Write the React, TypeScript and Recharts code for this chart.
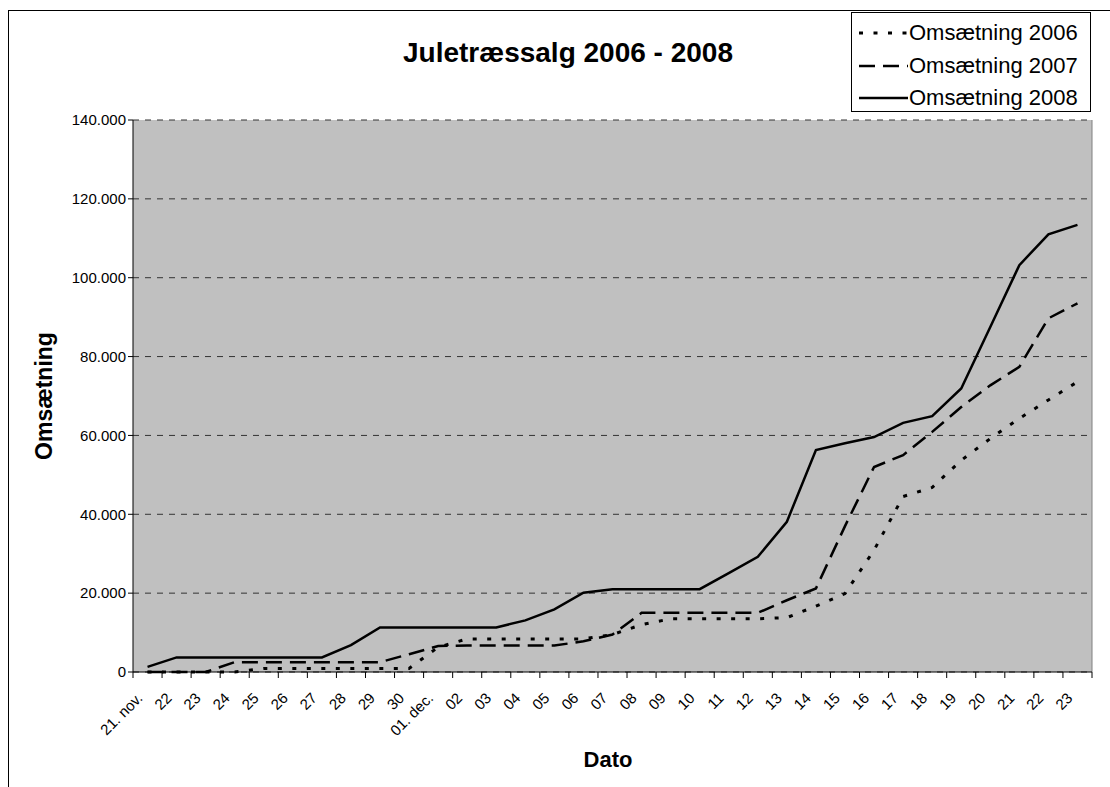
import React from "react";
import { LineChart, Line, XAxis, YAxis, CartesianGrid, ReferenceLine } from "recharts";

const dates = [
  "21. nov.", "22", "23", "24", "25", "26", "27", "28", "29", "30",
  "01. dec.", "02", "03", "04", "05", "06", "07", "08", "09", "10",
  "11", "12", "13", "14", "15", "16", "17", "18", "19", "20",
  "21", "22", "23",
];

const oms2006 = [
  0, 0, 0, 0, 900, 900, 900, 900, 900, 900,
  6300, 8400, 8400, 8400, 8400, 8400, 9500, 12000, 13500, 13500,
  13500, 13500, 13800, 16700, 19900, 30900, 44500, 46800, 53700, 59200,
  64300, 69000, 73600,
];

const oms2007 = [
  0, 0, 0, 2500, 2500, 2500, 2500, 2500, 2500, 4500,
  6600, 6700, 6700, 6700, 6700, 7800, 9500, 15000, 15000, 15000,
  15000, 15000, 18200, 21200, 37000, 52000, 55000, 60900, 67200, 72700,
  77400, 89700, 93500,
];

const oms2008 = [
  1300, 3700, 3700, 3700, 3700, 3700, 3700, 6800, 11300, 11300,
  11300, 11300, 11300, 13100, 15900, 20100, 21000, 21000, 21000, 21000,
  25100, 29200, 38100, 56300, 58000, 59600, 63200, 64900, 71900, 87500,
  103200, 111000, 113400,
];

const yTicks = [0, 20000, 40000, 60000, 80000, 100000, 120000, 140000];

const series = [
  { key: "o2006", name: "Omsætning 2006", dash: "4 10.5", width: 3 },
  { key: "o2007", name: "Omsætning 2007", dash: "16 8", width: 2.5 },
  { key: "o2008", name: "Omsætning 2008", dash: undefined, width: 2.5 },
];

const data = dates.map((d, i) => ({
  idx: i,
  o2006: oms2006[i],
  o2007: oms2007[i],
  o2008: oms2008[i],
}));

const W = 1110;
const H = 787;
const margin = { top: 120, right: 18, bottom: 55, left: 73 };
const Y_AXIS_W = 60;
const X_AXIS_H = 60;
const plotLeft = margin.left + Y_AXIS_W;
const plotRight = W - margin.right;
const bw = (plotRight - plotLeft) / dates.length;
const axisY = H - margin.bottom - X_AXIS_H;
const FONT = "'Liberation Sans', Arial, sans-serif";

const fmt = (v: number) => String(v).replace(/\B(?=(\d{3})+(?!\d))/g, ".");

// labels sit under the category, tick marks between categories (Excel style)
const XTick = (props: any) => {
  const { x, payload } = props;
  const i = payload.value;
  const tx = x - 4;
  const ty = axisY + 27;
  return (
    <g>
      <line x1={x - bw / 2} x2={x - bw / 2} y1={axisY} y2={axisY + 6} stroke="#000" />
      {i === dates.length - 1 && (
        <line x1={x + bw / 2} x2={x + bw / 2} y1={axisY} y2={axisY + 6} stroke="#000" />
      )}
      <text
        x={tx}
        y={ty}
        transform={`rotate(-45 ${tx} ${ty})`}
        textAnchor="end"
        fontSize={15}
        fontFamily={FONT}
        fill="#000"
      >
        {dates[i]}
      </text>
    </g>
  );
};

export default function App() {
  return (
    <div
      style={{
        position: "absolute",
        left: 0,
        top: 0,
        width: W,
        height: H,
        background: "#fff",
        overflow: "hidden",
        fontFamily: FONT,
      }}
    >
      <div
        style={{
          position: "absolute",
          left: 8,
          top: 10,
          width: 1300,
          height: 1000,
          borderLeft: "1px solid #000",
          borderTop: "1px solid #000",
        }}
      />
      <div style={{ position: "absolute", left: 0, top: 0 }}>
        <LineChart width={W} height={H} data={data} margin={margin}>
          <CartesianGrid
            horizontal
            vertical={false}
            fill="#C0C0C0"
            fillOpacity={1}
            stroke="#333"
            strokeDasharray="6 6"
          />
          <XAxis
            dataKey="idx"
            type="number"
            domain={[-0.5, dates.length - 0.5]}
            ticks={dates.map((d, i) => i)}
            interval={0}
            height={X_AXIS_H}
            tick={<XTick />}
            tickLine={false}
            axisLine={{ stroke: "#000" }}
          />
          <YAxis
            domain={[0, 140000]}
            ticks={yTicks}
            width={Y_AXIS_W}
            tickFormatter={fmt}
            tickSize={5}
            tickLine={{ stroke: "#000" }}
            axisLine={{ stroke: "#000" }}
            tick={{ fill: "#000", fontSize: 15, fontFamily: FONT }}
            interval={0}
          />
          <ReferenceLine x={dates.length - 0.5} stroke="#808080" />
          {series.map((s) => (
            <Line
              key={s.key}
              dataKey={s.key}
              name={s.name}
              stroke="#000"
              strokeWidth={s.width}
              strokeDasharray={s.dash}
              dot={false}
              activeDot={false}
              type="linear"
              isAnimationActive={false}
            />
          ))}
        </LineChart>
      </div>
      <div
        style={{
          position: "absolute",
          left: 318,
          top: 37,
          width: 500,
          textAlign: "center",
          fontWeight: "bold",
          fontSize: 28,
          lineHeight: "32px",
        }}
      >
        Juletræssalg 2006 - 2008
      </div>
      <div
        style={{
          position: "absolute",
          left: 44 - 100,
          top: 396 - 14,
          width: 200,
          textAlign: "center",
          fontWeight: "bold",
          fontSize: 23,
          lineHeight: "28px",
          transform: "rotate(-90deg)",
        }}
      >
        Omsætning
      </div>
      <div
        style={{
          position: "absolute",
          left: 508,
          top: 746,
          width: 200,
          textAlign: "center",
          fontWeight: "bold",
          fontSize: 22,
          lineHeight: "28px",
        }}
      >
        Dato
      </div>
      <div
        style={{
          position: "absolute",
          left: 851,
          top: 12,
          width: 240,
          height: 100,
          boxSizing: "border-box",
          border: "1px solid #000",
          background: "#fff",
        }}
      >
        {series.map((s, i) => (
          <div
            key={s.key}
            style={{
              position: "absolute",
              left: 0,
              top: 4 + i * 32.5,
              height: 32,
              display: "flex",
              alignItems: "center",
              fontSize: 22,
              whiteSpace: "nowrap",
            }}
          >
            <svg width={57} height={32}>
              <line
                x1={7}
                x2={56}
                y1={16}
                y2={16}
                stroke="#000"
                strokeWidth={s.width}
                strokeDasharray={s.dash}
              />
            </svg>
            <span>{s.name}</span>
          </div>
        ))}
      </div>
    </div>
  );
}
